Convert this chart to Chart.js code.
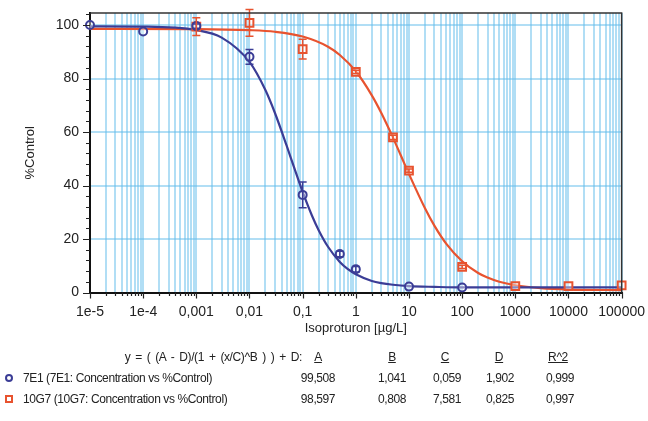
<!DOCTYPE html>
<html>
<head>
<meta charset="utf-8">
<script src="https://cdn.jsdelivr.net/npm/chart.js@4.4.1/dist/chart.umd.min.js"></script>
<style>
  html, body { margin: 0; padding: 0; background: #fff; }
  #wrap { position: relative; width: 648px; height: 421px; overflow: hidden; font-family: 'Liberation Sans', Arial, sans-serif; color: #222; }
  #chart { position: absolute; left: 0; top: 0; }
  .t { position: absolute; font-size: 12px; line-height: 16px; letter-spacing: -0.4px; white-space: nowrap; }
  .c { transform: translateX(-50%); }
  .r { transform: translateX(-100%); }
  .u { text-decoration: underline; }
  .eq { word-spacing: 2px; }
  .mk { position: absolute; width: 4px; height: 4px; border: 2px solid; }
</style>
</head>
<body>
<div id="wrap">
  <canvas id="chart" width="648" height="421"></canvas>
  <div id="table"></div>
</div>
<script>
// axis ticks (labels use comma decimals like the original)
const xTicks = [1e-5, 1e-4, 1e-3, 1e-2, 1e-1, 1, 10, 100, 1000, 10000, 100000];
const xTickLabels = ['1e-5', '1e-4', '0,001', '0,01', '0,1', '1', '10', '100', '1000', '10000', '100000'];

// 7E1 measured points
const e1X = [1e-5, 1e-4, 1e-3, 0.01, 0.1, 0.5, 1, 10, 100];
const e1Y = [100, 97.6, 99.6, 88.1, 36.5, 14.4, 8.7, 2.2, 1.9];
const e1Err = [0, 0, 0.8, 2.8, 4.8, 1.0, 1.0, 0, 0];

// 10G7 measured points
const g7X = [1e-3, 0.01, 0.1, 1, 5, 10, 100, 1000, 10000, 100000];
const g7Y = [99.4, 100.8, 91.0, 82.5, 58.0, 45.6, 9.6, 2.4, 2.4, 2.7];
const g7Err = [3.3, 5.0, 3.7, 0.6, 0.8, 0.6, 0.6, 0, 0, 0];

// fitted curves
const e1CurveX = [1e-5, 1e-4, 1e-3, 3e-3, 0.01, 0.02, 0.03, 0.05, 0.07, 0.1, 0.15, 0.2, 0.3, 0.5, 0.7, 1, 2, 3, 5, 10, 30, 100, 1000, 1e4, 1e5];
const e1CurveY = [99.5, 99.4, 98.1, 95.3, 86.2, 75.6, 67.2, 54.9, 46.4, 37.6, 28.7, 23.3, 17.1, 11.4, 8.8, 6.8, 4.3, 3.5, 2.9, 2.4, 2.1, 1.9, 1.9, 1.9, 1.9];
const g7CurveX = [1e-5, 1e-3, 0.01, 0.03, 0.1, 0.3, 0.5, 1, 2, 3, 5, 7, 10, 20, 30, 50, 100, 200, 300, 500, 1000, 3000, 1e4, 1e5];
const g7CurveY = [98.6, 98.5, 98.1, 97.5, 95.7, 91.9, 88.8, 82.7, 73.7, 67.2, 57.9, 51.3, 44.3, 31.5, 25.0, 18.3, 11.7, 7.3, 5.6, 4.0, 2.7, 1.6, 1.1, 0.9];

// fit table
const fitEquation = 'y = ( (A - D)/(1 + (x/C)^B ) ) + D:';
const fitHeaders = ['A', 'B', 'C', 'D', 'R^2'];
const e1Name = '7E1 (7E1: Concentration vs %Control)';
const g7Name = '10G7 (10G7: Concentration vs %Control)';
const e1Params = ['99,508', '1,041', '0,059', '1,902', '0,999'];
const g7Params = ['98,597', '0,808', '7,581', '0,825', '0,997'];

const BLUE = '#3b3d96';
const RED = '#e8532f';
const GRID = 'rgba(100,190,235,0.5)';

const pts = (xs, ys) => xs.map((x, i) => ({ x: x, y: ys[i] }));

// error bars with caps
const errorBars = {
    id: 'errorBars',
    afterDatasetsDraw(chart) {
        const { ctx, scales: { x, y } } = chart;
        const sets = [[e1X, e1Y, e1Err, BLUE], [g7X, g7Y, g7Err, RED]];
        ctx.save();
        ctx.lineWidth = 1.5;
        sets.forEach(([xs, ys, es, col]) => {
            ctx.strokeStyle = col;
            ctx.beginPath();
            xs.forEach((xv, i) => {
                if (!es[i]) return;
                const px = x.getPixelForValue(xv);
                const p1 = y.getPixelForValue(ys[i] + es[i]);
                const p2 = y.getPixelForValue(ys[i] - es[i]);
                ctx.moveTo(px, p1); ctx.lineTo(px, p2);
                ctx.moveTo(px - 4, p1); ctx.lineTo(px + 4, p1);
                ctx.moveTo(px - 4, p2); ctx.lineTo(px + 4, p2);
            });
            ctx.stroke();
        });
        ctx.restore();
    }
};

// frame and major/minor tick marks
const axisMarks = {
    id: 'axisMarks',
    afterDraw(chart) {
        const { ctx, chartArea: a, scales: { x, y } } = chart;
        ctx.save();
        ctx.strokeStyle = '#222';
        ctx.lineWidth = 1.2;
        ctx.beginPath();
        x.ticks.forEach(t => {
            const px = Math.round(x.getPixelForValue(t.value)) + 0.5;
            ctx.moveTo(px, a.bottom); ctx.lineTo(px, a.bottom + (t.major ? 6 : 3.5));
        });
        for (let v = 0; v <= 104; v += 4) {
            const py = Math.round(y.getPixelForValue(v)) + 0.5;
            ctx.moveTo(a.left - (v % 20 === 0 ? 7 : 4), py); ctx.lineTo(a.left, py);
        }
        ctx.stroke();
        ctx.strokeStyle = '#333';
        ctx.lineWidth = 1.5;
        ctx.beginPath();
        ctx.moveTo(a.left, a.top); ctx.lineTo(a.right, a.top); ctx.lineTo(a.right, a.bottom);
        ctx.stroke();
        ctx.restore();
    }
};

const ctx = document.getElementById('chart').getContext('2d');
new Chart(ctx, {
    type: 'scatter',
    data: {
        datasets: [
            { data: pts(e1X, e1Y), pointStyle: 'circle', pointRadius: 4, borderWidth: 2, borderColor: BLUE, backgroundColor: 'rgba(255,255,255,0.4)', clip: false },
            { data: pts(g7X, g7Y), pointStyle: 'rect', pointRadius: 5.5, borderWidth: 2, borderColor: RED, backgroundColor: 'rgba(255,255,255,0.4)', clip: false },
            { data: pts(e1CurveX, e1CurveY), showLine: true, pointRadius: 0, borderColor: BLUE, borderWidth: 2.2, cubicInterpolationMode: 'monotone' },
            { data: pts(g7CurveX, g7CurveY), showLine: true, pointRadius: 0, borderColor: RED, borderWidth: 2.2, cubicInterpolationMode: 'monotone' }
        ]
    },
    options: {
        responsive: false,
        animation: false,
        layout: { padding: { left: 19, top: 13, right: 24, bottom: 83 } },
        plugins: { legend: { display: false }, tooltip: { enabled: false } },
        scales: {
            x: {
                type: 'logarithmic',
                min: 1e-5,
                max: 1e5,
                afterBuildTicks: (scale) => {
                    const ticks = [];
                    xTicks.forEach((d, i) => {
                        ticks.push({ value: d, major: true });
                        if (i < xTicks.length - 1) {
                            for (let k = 2; k <= 9; k++) ticks.push({ value: d * k, major: false });
                        }
                    });
                    scale.ticks = ticks;
                },
                afterFit: (scale) => { scale.height = 45.5; },
                ticks: {
                    autoSkip: false,
                    maxRotation: 0,
                    color: '#222',
                    font: { family: 'Liberation Sans', size: 14 },
                    callback: (value) => {
                        const i = xTicks.findIndex(d => Math.abs(Math.log10(d) - Math.log10(value)) < 1e-6);
                        return i >= 0 ? xTickLabels[i] : '';
                    }
                },
                grid: { color: GRID, lineWidth: 2, tickColor: 'rgba(0,0,0,0)', tickLength: 8 },
                border: { color: '#111', width: 2 },
                title: { display: true, text: 'Isoproturon [µg/L]', color: '#222', font: { family: 'Liberation Sans', size: 13 }, padding: { top: 2, bottom: 2 } }
            },
            y: {
                min: 0,
                max: 104.5,
                afterFit: (scale) => { scale.width = 71; },
                ticks: { stepSize: 20, includeBounds: false, color: '#222', font: { family: 'Liberation Sans', size: 14 } },
                grid: { color: GRID, lineWidth: 2, tickColor: 'rgba(0,0,0,0)', tickLength: 8 },
                border: { color: '#111', width: 2 },
                title: { display: true, text: '%Control', color: '#222', font: { family: 'Liberation Sans', size: 13 } }
            }
        }
    },
    plugins: [errorBars, axisMarks]
});

// fit results table under the chart
const table = document.getElementById('table');
function addText(txt, x, y, cls) {
    const d = document.createElement('div');
    d.className = 't ' + cls;
    d.textContent = txt;
    d.style.left = x + 'px';
    d.style.top = (y - 8) + 'px';
    table.appendChild(d);
}
const headerX = [318, 392, 445, 499, 558];
const valueX = [318, 392, 447, 500, 560];
addText(fitEquation, 302, 357, 'r eq');
fitHeaders.forEach((h, i) => addText(h, headerX[i], 357, 'c u'));
addText(e1Name, 23, 378, '');
addText(g7Name, 23, 399, '');
e1Params.forEach((v, i) => addText(v, valueX[i], 378, 'c'));
g7Params.forEach((v, i) => addText(v, valueX[i], 399, 'c'));
const m1 = document.createElement('div');
m1.className = 'mk'; m1.style.cssText = 'left:5px;top:374px;border-color:' + BLUE + ';border-radius:50%;';
const m2 = document.createElement('div');
m2.className = 'mk'; m2.style.cssText = 'left:5px;top:395px;border-color:' + RED + ';';
table.appendChild(m1); table.appendChild(m2);
</script>
</body>
</html>
